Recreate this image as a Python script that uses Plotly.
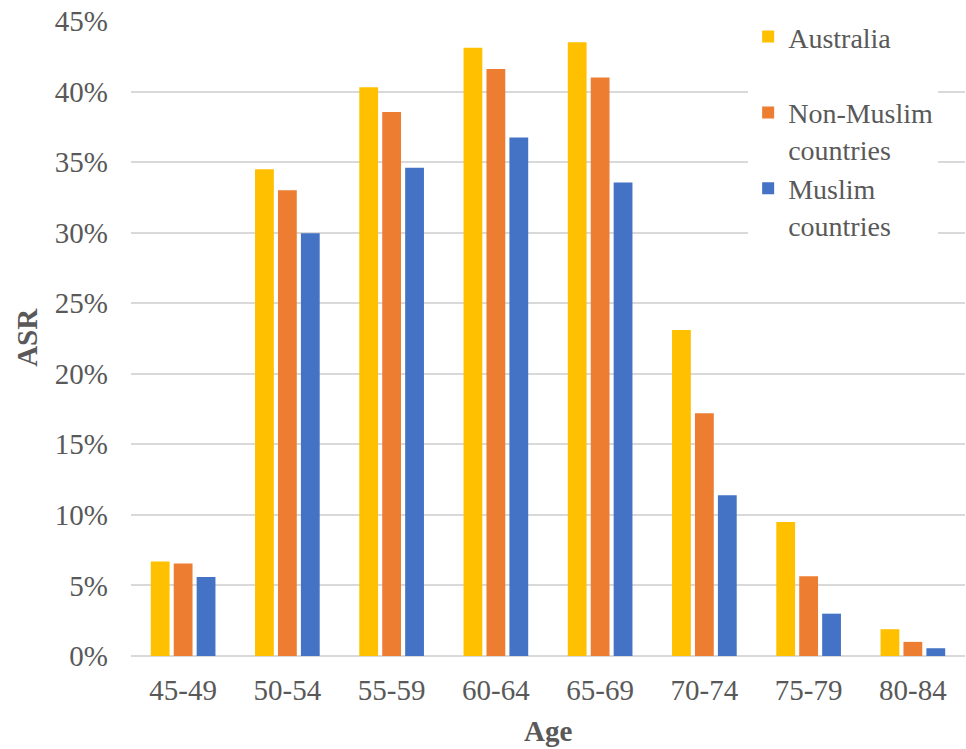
import plotly.graph_objects as go

# Age-specific rates (%) by age group
age_groups = ["45-49", "50-54", "55-59", "60-64", "65-69", "70-74", "75-79", "80-84"]
australia = [6.7, 34.5, 40.3, 43.1, 43.5, 23.1, 9.5, 1.9]
non_muslim = [6.55, 33.0, 38.55, 41.6, 41.0, 17.2, 5.65, 1.0]
muslim = [5.6, 29.95, 34.6, 36.75, 33.55, 11.4, 3.0, 0.55]

series_names = ["Australia<br> ", "Non-Muslim<br>countries", "Muslim<br>countries"]
series_values = [australia, non_muslim, muslim]
series_colors = ["#FFC000", "#ED7D31", "#4472C4"]

y_ticks = list(range(0, 50, 5))
y_tick_labels = [f"{v}%" for v in y_ticks]

FONT = "Liberation Serif, Times New Roman, serif"
GREY = "#595959"

fig = go.Figure()
for name, vals, col in zip(series_names, series_values, series_colors):
    fig.add_trace(go.Bar(
        x=age_groups, y=vals, name=name,
        marker=dict(color=col, line=dict(width=0)),
    ))

fig.update_layout(
    width=966, height=749,
    margin=dict(l=131, r=1, t=21, b=93),
    paper_bgcolor="white", plot_bgcolor="white",
    barmode="group", bargap=0.34, bargroupgap=0.18,
    font=dict(family=FONT, size=29, color=GREY),
    showlegend=True,
    legend=dict(
        x=0.74, y=1.0143, xanchor="left", yanchor="top",
        bgcolor="white", borderwidth=0,
        font=dict(family=FONT, size=28, color=GREY),
        valign="top", itemwidth=30, tracegroupgap=0,
    ),
    xaxis=dict(
        showgrid=False, showline=False, ticks="",
        tickfont=dict(family=FONT, size=29, color=GREY),
        ticklabelstandoff=14,
    ),
    yaxis=dict(
        range=[0, 45], tickmode="array", tickvals=y_ticks, ticktext=y_tick_labels,
        showgrid=True, gridcolor="#D9D9D9", gridwidth=1.5,
        zeroline=True, zerolinecolor="#D9D9D9", zerolinewidth=1.5,
        showline=False, ticks="",
        tickfont=dict(family=FONT, size=29, color=GREY),
        ticklabelstandoff=22,
    ),
    annotations=[
        dict(text="<b>ASR</b>", xref="paper", yref="paper", x=-0.1247, y=0.501,
             xanchor="center", yanchor="middle", textangle=-90, showarrow=False,
             font=dict(family=FONT, size=29, color=GREY)),
        dict(text="<b>Age</b>", xref="paper", yref="paper", x=0.5, y=-0.118,
             xanchor="center", yanchor="middle", showarrow=False,
             font=dict(family=FONT, size=29, color=GREY)),
    ],
)

fig.write_html("out.html")
